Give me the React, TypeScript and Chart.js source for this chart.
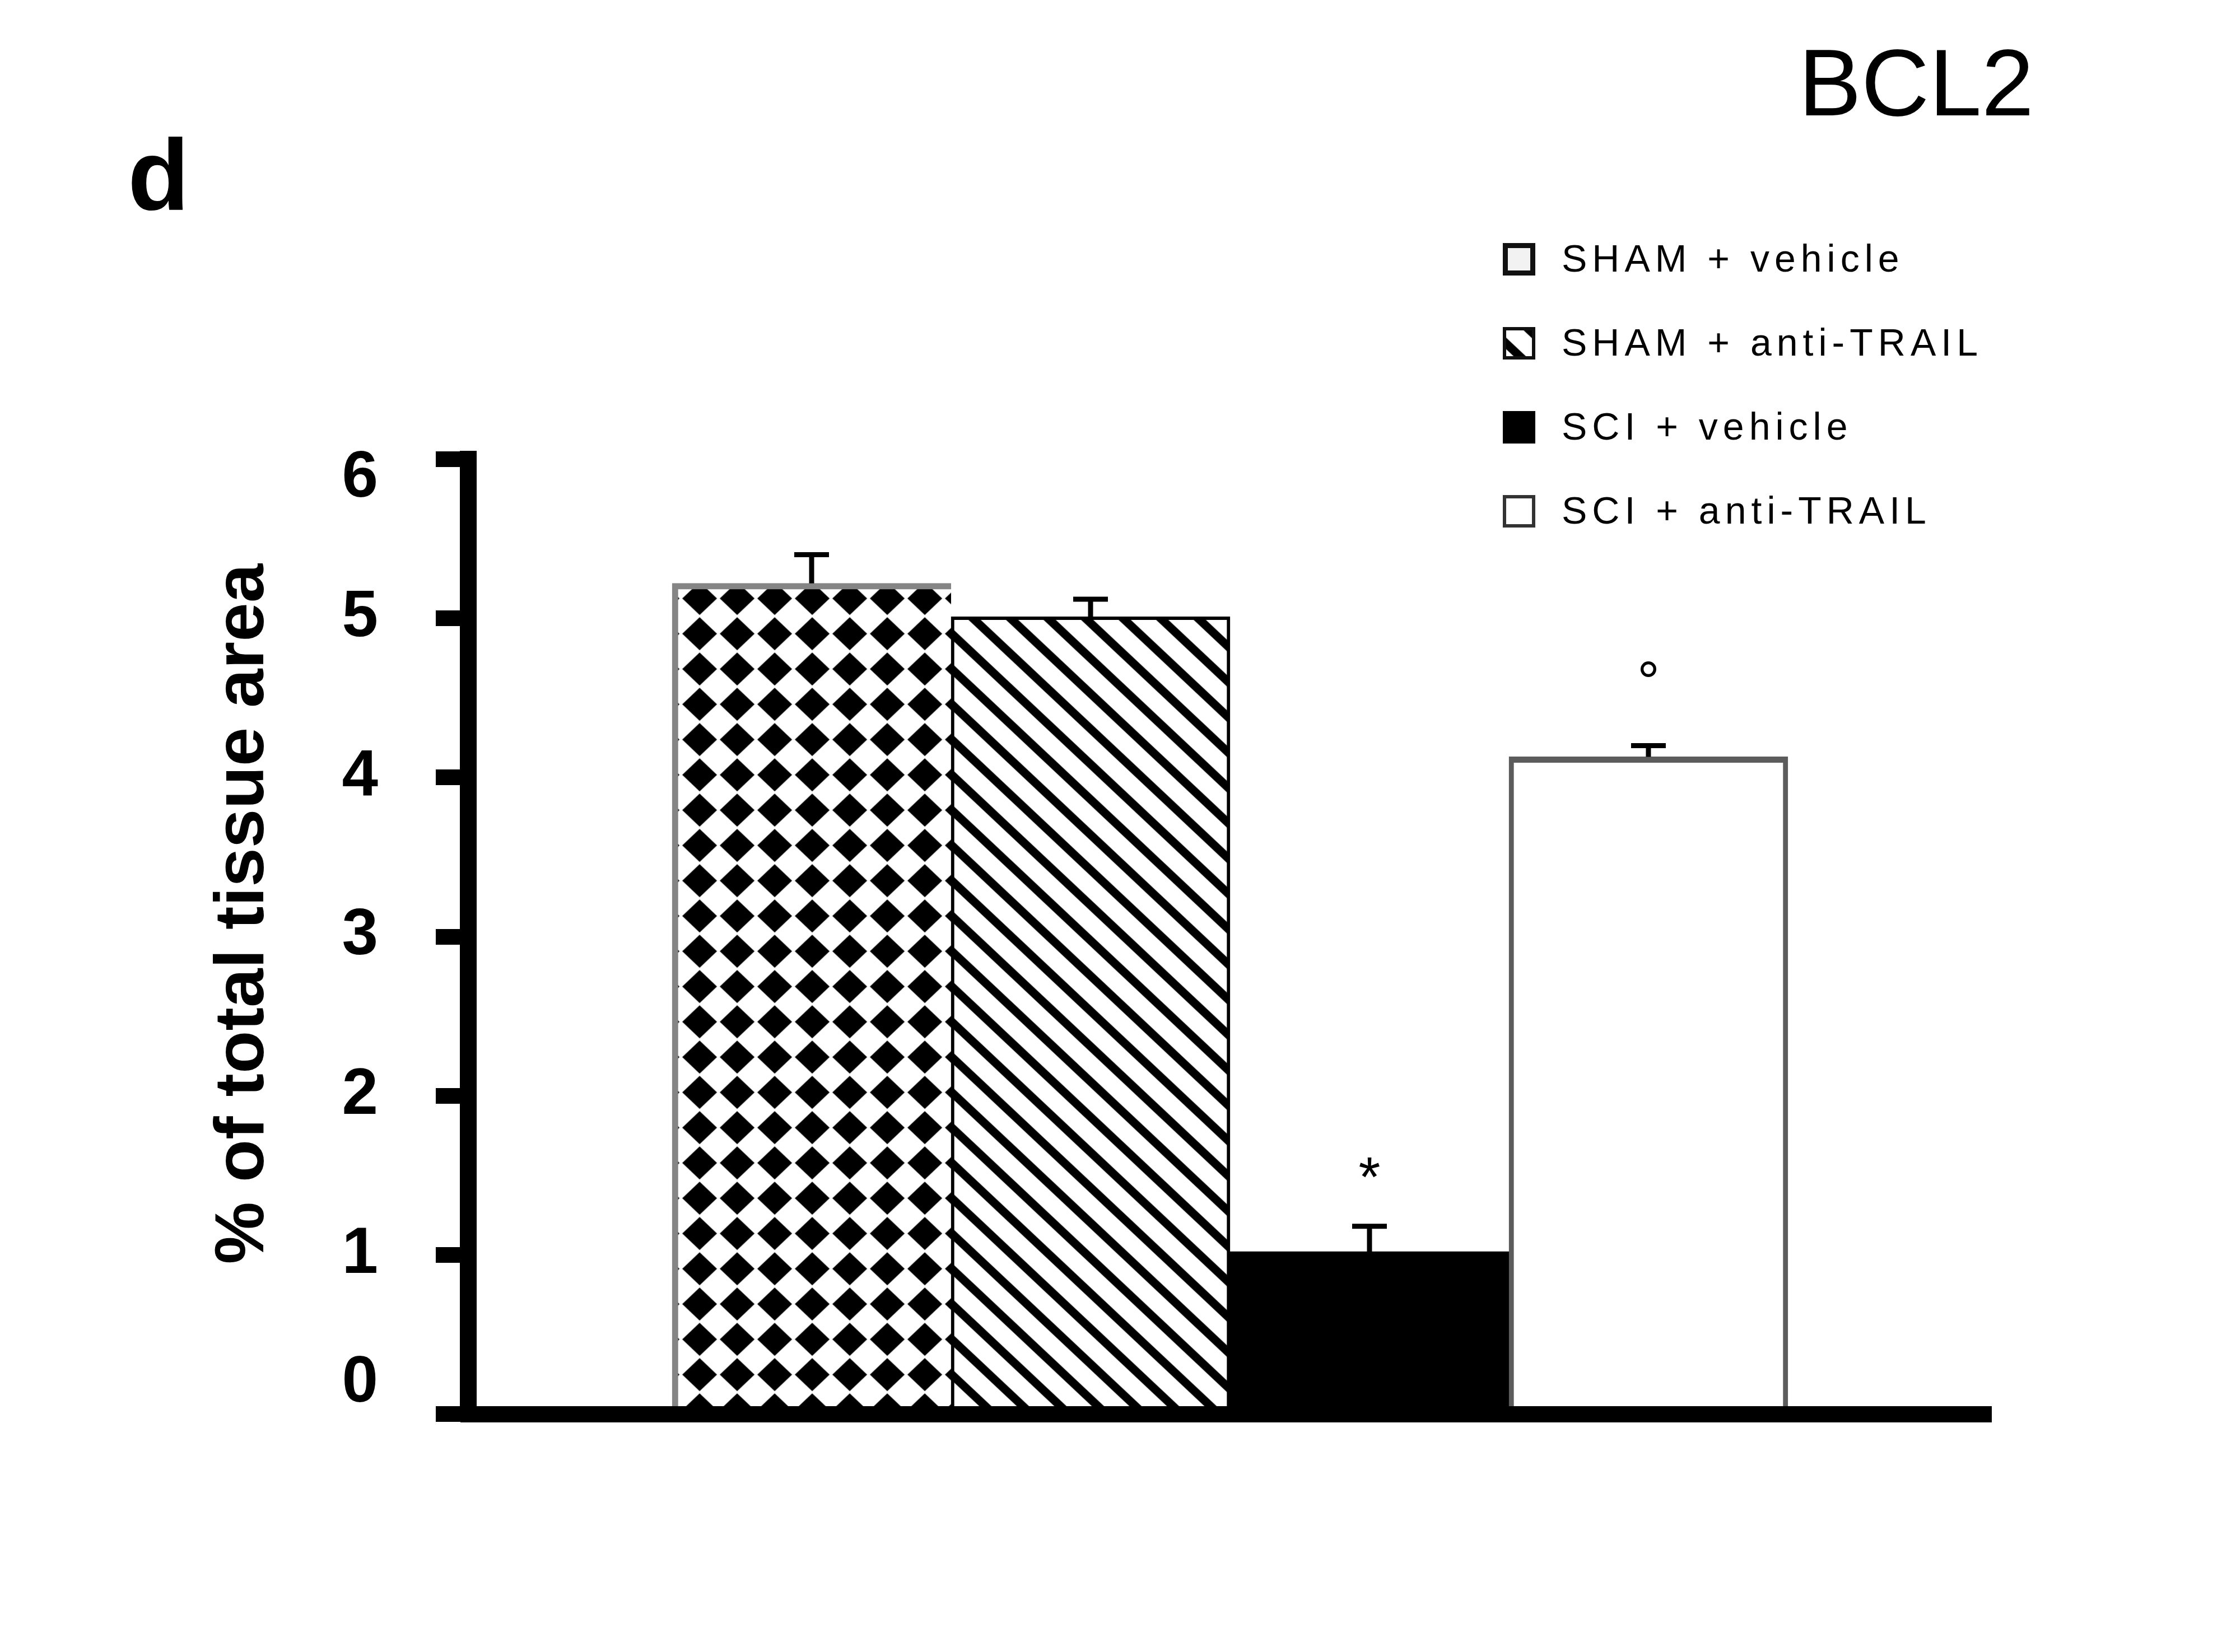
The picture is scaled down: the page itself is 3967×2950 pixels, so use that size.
import React, { useEffect, useRef } from 'react';
import { Chart, registerables } from 'chart.js';

Chart.register(...registerables);

// ---------------- data ----------------
const groups = ['SHAM + vehicle', 'SHAM + anti-TRAIL', 'SCI + vehicle', 'SCI + anti-TRAIL'];
const meanValues = [5.22, 5.01, 1.02, 4.13];
const semValues = [0.18, 0.11, 0.16, 0.07];
const significanceMarks = ['', '', '*', '°'];
const markLevels: (number | null)[] = [null, null, 1.55, 4.68];
const yTickValues = [0, 1, 2, 3, 4, 5, 6];
const panelLetter = 'd';
const panelTitle = 'BCL2';
const yAxisTitle = '% of total tissue area';

// ---------------- layout / style ----------------
const W = 3967;
const H = 2950;
const PLOT_LEFT = 836;
const PLOT_TOP = 820;
const PLOT_RIGHT = 3555;
const PLOT_BOTTOM = 2525;
const FONT = '"Liberation Sans", Arial, Helvetica, sans-serif';

function makeDiamondPattern(ctx: CanvasRenderingContext2D) {
  const tw = 67, th = 63;
  const c = document.createElement('canvas');
  c.width = tw; c.height = th;
  const g = c.getContext('2d')!;
  g.fillStyle = '#ffffff';
  g.fillRect(0, 0, tw, th);
  g.fillStyle = '#000000';
  const cx = tw / 2, cy = th / 2, hw = 31, hh = 29.5;
  g.beginPath();
  g.moveTo(cx, cy - hh);
  g.lineTo(cx + hw, cy);
  g.lineTo(cx, cy + hh);
  g.lineTo(cx - hw, cy);
  g.closePath();
  g.fill();
  return ctx.createPattern(c, 'repeat')!;
}

function makeStripePattern(ctx: CanvasRenderingContext2D) {
  const tw = 67, th = 63;
  const c = document.createElement('canvas');
  c.width = tw; c.height = th;
  const g = c.getContext('2d')!;
  g.fillStyle = '#ffffff';
  g.fillRect(0, 0, tw, th);
  g.strokeStyle = '#000000';
  g.lineWidth = 15;
  for (const dx of [-tw, 0, tw]) {
    g.beginPath();
    g.moveTo(dx - tw, -th);
    g.lineTo(dx + 2 * tw, 2 * th);
    g.stroke();
  }
  return ctx.createPattern(c, 'repeat')!;
}

export default function App() {
  const ref = useRef<HTMLCanvasElement>(null);

  useEffect(() => {
    const canvas = ref.current!;
    const ctx = canvas.getContext('2d')!;
    const diamonds = makeDiamondPattern(ctx);
    const stripes = makeStripePattern(ctx);
    const fills: any[] = [diamonds, stripes, '#000000', '#ffffff'];
    const borderColors = ['#858585', '#000000', '#000000', '#5c5c5c'];
    const borderWidths = [
      { top: 11, left: 11, right: 0, bottom: 0 },
      { top: 6, left: 6, right: 6, bottom: 0 },
      { top: 0, left: 0, right: 0, bottom: 0 },
      { top: 11, left: 9, right: 9, bottom: 0 },
    ];
    const legendBoxes: any[] = [
      { fill: '#f2f2f2', stroke: '#111111', lw: 9 },
      { fill: stripes, stroke: '#111111', lw: 6 },
      { fill: '#000000', stroke: '#000000', lw: 0 },
      { fill: '#ffffff', stroke: '#333333', lw: 6 },
    ];

    const patternAlign = {
      id: 'patternAlign',
      beforeDatasetsDraw(chart: any) {
        const meta = chart.getDatasetMeta(0);
        const e0 = meta.data[0];
        const e1 = meta.data[1];
        if (!e0 || !e1) return;
        const l0 = e0.x - e0.width / 2;
        const l1 = e1.x - e1.width / 2;
        diamonds.setTransform(new DOMMatrix().translate(l0 + 49 - 33.5, e0.y + 27 - 31.5));
        stripes.setTransform(new DOMMatrix().translate(l1 + 36, e1.y));
      },
    };

    const annotations = {
      id: 'annotations',
      afterDraw(chart: any) {
        const c: CanvasRenderingContext2D = chart.ctx;
        const y = chart.scales.y;
        const meta = chart.getDatasetMeta(0);
        c.save();

        // error bars (upper SEM)
        c.strokeStyle = '#000000';
        c.lineWidth = 9;
        c.lineCap = 'butt';
        meta.data.forEach((el: any, i: number) => {
          const top = y.getPixelForValue(meanValues[i] + semValues[i]);
          c.beginPath();
          c.moveTo(el.x, el.y);
          c.lineTo(el.x, top);
          c.moveTo(el.x - 31, top);
          c.lineTo(el.x + 31, top);
          c.stroke();
        });

        // significance marks
        c.fillStyle = '#000000';
        c.font = `100px ${FONT}`;
        c.textAlign = 'center';
        c.textBaseline = 'alphabetic';
        meta.data.forEach((el: any, i: number) => {
          const mark = significanceMarks[i];
          const lvl = markLevels[i];
          if (!mark || lvl === null) return;
          const m = c.measureText(mark);
          const cy = y.getPixelForValue(lvl);
          const off = (m.actualBoundingBoxAscent - m.actualBoundingBoxDescent) / 2;
          c.fillText(mark, el.x, cy + off);
        });

        // legend
        c.textAlign = 'left';
        c.textBaseline = 'alphabetic';
        c.font = `68px ${FONT}`;
        (c as any).letterSpacing = '9px';
        groups.forEach((g, i) => {
          const base = 485 + i * 150;
          const bx = 2683, size = 58;
          const by = base - 22 - size / 2;
          const st = legendBoxes[i];
          c.fillStyle = st.fill;
          c.fillRect(bx, by, size, size);
          if (st.lw > 0) {
            c.strokeStyle = st.stroke;
            c.lineWidth = st.lw;
            c.strokeRect(bx + st.lw / 2, by + st.lw / 2, size - st.lw, size - st.lw);
          }
          c.fillStyle = '#000000';
          c.fillText(g, 2788, base);
        });
        (c as any).letterSpacing = '0px';

        // panel letter & title
        c.fillStyle = '#000000';
        c.font = `bold 180px ${FONT}`;
        c.textAlign = 'left';
        c.fillText(panelLetter, 228, 375);
        c.font = `168px ${FONT}`;
        c.textAlign = 'center';
        c.fillText(panelTitle, 3421, 206);

        // y axis title
        c.save();
        c.translate(470, 1632);
        c.rotate(-Math.PI / 2);
        c.font = `bold 125px ${FONT}`;
        c.textAlign = 'center';
        c.textBaseline = 'alphabetic';
        c.fillText(yAxisTitle, 0, 0);
        c.restore();

        c.restore();
      },
    };

    const chart = new Chart(canvas, {
      type: 'bar',
      data: {
        labels: groups,
        datasets: [
          {
            label: 'BCL2',
            data: meanValues.map((v, i) => ({ x: i + 1, y: v })) as any,
            backgroundColor: fills,
            borderColor: borderColors,
            borderWidth: (c: any) => borderWidths[c.dataIndex],
            borderSkipped: false,
            categoryPercentage: 1,
            barPercentage: 1,
          } as any,
        ],
      },
      options: {
        responsive: false,
        animation: false,
        events: [],
        layout: { padding: { top: PLOT_TOP, right: W - PLOT_RIGHT, bottom: 0, left: 0 } },
        plugins: { legend: { display: false }, tooltip: { enabled: false }, title: { display: false } },
        scales: {
          x: {
            type: 'linear',
            min: -0.231,
            max: 5.229,
            offset: false,
            afterBuildTicks: (s: any) => { s.ticks = []; },
            afterFit: (s: any) => { s.height = H - PLOT_BOTTOM; },
            grid: { display: false, drawTicks: false },
            ticks: { display: false },
            border: { display: true, color: '#000000', width: 29, z: 1 },
          },
          y: {
            type: 'linear',
            min: yTickValues[0],
            max: yTickValues[yTickValues.length - 1],
            afterFit: (s: any) => { s.width = PLOT_LEFT; },
            grid: {
              display: true,
              drawOnChartArea: false,
              drawTicks: true,
              tickLength: 58,
              lineWidth: 28,
              color: '#000000',
              z: 1,
            },
            border: { display: true, color: '#000000', width: 30, z: 1 },
            ticks: {
              stepSize: 1,
              autoSkip: false,
              padding: 103,
              color: '#000000',
              callback: (v: any) => {
                const s = String(v);
                if (v === yTickValues[yTickValues.length - 1]) return ['', s];
                if (v === yTickValues[0]) return [s, ''];
                return s;
              },
              font: (c: any) => {
                const v = c.tick ? c.tick.value : null;
                let lh: any = 1.2;
                if (v === yTickValues[yTickValues.length - 1]) lh = '70px';
                else if (v === yTickValues[0]) lh = '108px';
                return { family: FONT, size: 116, weight: 'bold', lineHeight: lh };
              },
            },
          },
        },
      } as any,
      plugins: [patternAlign, annotations],
    });

    return () => chart.destroy();
  }, []);

  return (
    <div style={{ position: 'absolute', left: 0, top: 0, width: W, height: H, background: '#ffffff' }}>
      <canvas ref={ref} width={W} height={H} style={{ width: W, height: H, display: 'block' }} />
    </div>
  );
}
